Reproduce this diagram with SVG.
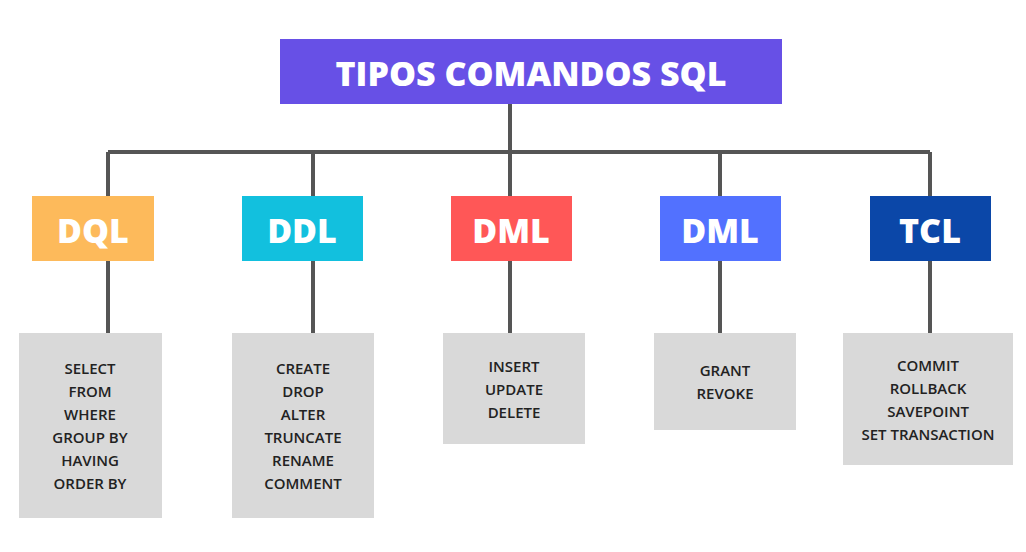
<svg xmlns="http://www.w3.org/2000/svg" width="1026" height="552" viewBox="0 0 1026 552">
<style>
.ln{stroke:#555;stroke-width:4;fill:none}
.hd{font-family:"Open Sans",sans-serif;font-weight:800;fill:#fff;text-anchor:middle}
.it{font-family:"Open Sans",sans-serif;font-weight:600;font-size:15px;fill:#222;text-anchor:middle}
.bx{fill:#d9d9d9}
</style>
<rect width="1026" height="552" fill="#fff"/>
<g id="connectors">
<path class="ln" d="M510 104V333M108 152H930M108 152V333M313 152V333M720 152V333M930 152V333"/>
</g>
<g id="root"><rect x="280" y="39" width="502" height="65" fill="#6750e6"/><text class="hd" x="531" y="86" font-size="34">TIPOS COMANDOS SQL</text></g>
<g id="dql"><rect x="32" y="196" width="122" height="65" fill="#fdba5b"/><text class="hd" x="93" y="243" font-size="34">DQL</text></g>
<g id="ddl"><rect x="242" y="196" width="121" height="65" fill="#12c0de"/><text class="hd" x="302" y="243" font-size="34">DDL</text></g>
<g id="dml"><rect x="451" y="196" width="121" height="65" fill="#ff5757"/><text class="hd" x="511" y="243" font-size="34">DML</text></g>
<g id="dml2"><rect x="660" y="196" width="121" height="65" fill="#5271ff"/><text class="hd" x="720" y="243" font-size="34">DML</text></g>
<g id="tcl"><rect x="870" y="196" width="121" height="65" fill="#0b47a8"/><text class="hd" x="930" y="243" font-size="34">TCL</text></g>
<g id="dql-items"><rect class="bx" x="19" y="333" width="143" height="185"/>
<text class="it"><tspan x="90" y="374">SELECT</tspan><tspan x="90" y="397">FROM</tspan><tspan x="90" y="420">WHERE</tspan><tspan x="90" y="443">GROUP BY</tspan><tspan x="90" y="466">HAVING</tspan><tspan x="90" y="489">ORDER BY</tspan></text></g>
<g id="ddl-items"><rect class="bx" x="232" y="333" width="142" height="185"/>
<text class="it"><tspan x="303" y="374">CREATE</tspan><tspan x="303" y="397">DROP</tspan><tspan x="303" y="420">ALTER</tspan><tspan x="303" y="443">TRUNCATE</tspan><tspan x="303" y="466">RENAME</tspan><tspan x="303" y="489">COMMENT</tspan></text></g>
<g id="dml-items"><rect class="bx" x="443" y="333" width="142" height="111"/>
<text class="it"><tspan x="514" y="372">INSERT</tspan><tspan x="514" y="395">UPDATE</tspan><tspan x="514" y="418">DELETE</tspan></text></g>
<g id="dml2-items"><rect class="bx" x="654" y="333" width="142" height="97"/>
<text class="it"><tspan x="725" y="376">GRANT</tspan><tspan x="725" y="399">REVOKE</tspan></text></g>
<g id="tcl-items"><rect class="bx" x="843" y="333" width="170" height="132"/>
<text class="it"><tspan x="928" y="371">COMMIT</tspan><tspan x="928" y="394">ROLLBACK</tspan><tspan x="928" y="417">SAVEPOINT</tspan><tspan x="928" y="440">SET TRANSACTION</tspan></text></g>
</svg>
